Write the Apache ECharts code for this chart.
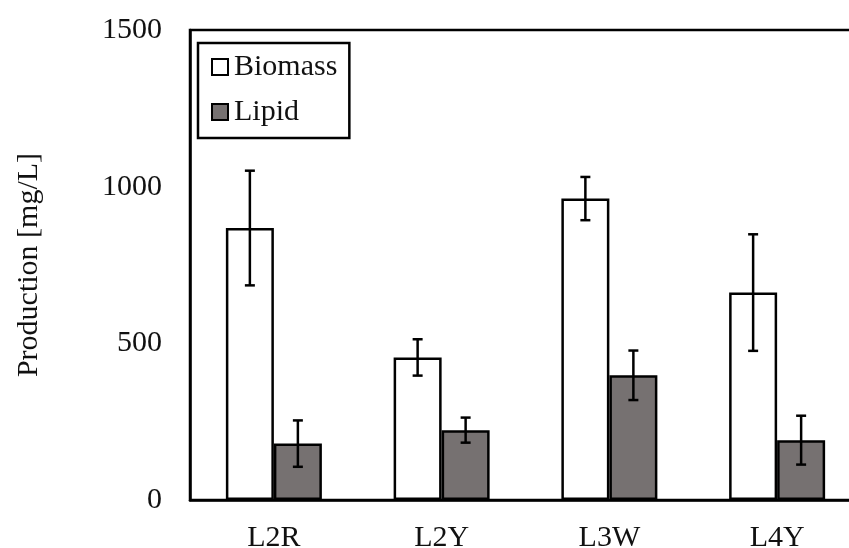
<!DOCTYPE html>
<html>
<head>
<meta charset="utf-8">
<script src="https://cdn.jsdelivr.net/npm/echarts@6/dist/echarts.min.js"></script>
<style>
  html, body { margin: 0; padding: 0; background: #fff; }
  #chart { width: 849px; height: 548px; }
</style>
</head>
<body>
<div id="chart"></div>
<script>
// Strains and measured production (mg/L), mean and standard deviation
const categories = ['L2R', 'L2Y', 'L3W', 'L4Y'];
const biomass = [868, 455, 962, 662];
const biomassErr = [183, 58, 69, 186];
const lipid = [180, 223, 398, 191];
const lipidErr = [74, 40, 79, 78];
const yTicks = [0, 500, 1000, 1500];

const FONT = '"Liberation Serif", "Times New Roman", serif';
const FS = 30;
const BAR_W = 48;
const INK = '#111';
const LW = 2.5;

// Error bar: vertical whisker with short caps, shifted onto its bar
function errorBar(shift) {
  return function (params, api) {
    const idx = api.value(0);
    const lo = api.coord([idx, api.value(1)]);
    const hi = api.coord([idx, api.value(2)]);
    const x = lo[0] + shift;
    const cap = 5;
    const style = { stroke: '#000', lineWidth: LW, fill: null };
    return {
      type: 'group',
      children: [
        { type: 'line', shape: { x1: x, y1: hi[1], x2: x, y2: lo[1] }, style },
        { type: 'line', shape: { x1: x - cap, y1: hi[1], x2: x + cap, y2: hi[1] }, style },
        { type: 'line', shape: { x1: x - cap, y1: lo[1], x2: x + cap, y2: lo[1] }, style }
      ]
    };
  };
}

function errData(vals, errs) {
  return vals.map((v, i) => [i, v - errs[i], v + errs[i]]);
}

const chart = echarts.init(document.getElementById('chart'), null, { renderer: 'canvas' });
chart.setOption({
  animation: false,
  backgroundColor: '#fff',
  textStyle: { fontFamily: FONT, color: INK },
  // plot frame runs past the right edge of the canvas
  grid: {
    left: 190, top: 30, bottom: 48, width: 671,
    outerBoundsMode: 'none',
    containLabel: false,
    show: true, borderColor: '#000', borderWidth: LW, backgroundColor: 'transparent'
  },
  legend: {
    orient: 'vertical',
    left: 198, top: 43,
    padding: [9, 12, 11, 13],
    itemGap: 15,
    itemWidth: 16, itemHeight: 16,
    borderColor: '#000', borderWidth: LW,
    backgroundColor: '#fff',
    textStyle: { fontFamily: FONT, fontSize: FS, color: INK, lineHeight: 30, padding: [0, 0, 0, 1] },
    data: [
      { name: 'Biomass', icon: 'rect' },
      { name: 'Lipid', icon: 'rect' }
    ]
  },
  xAxis: {
    type: 'category',
    data: categories,
    axisLine: { lineStyle: { color: '#000', width: LW } },
    axisTick: { inside: true, length: 8, lineStyle: { color: '#000', width: LW } },
    axisLabel: { fontFamily: FONT, fontSize: FS, color: INK, margin: 23 }
  },
  yAxis: {
    type: 'value',
    min: yTicks[0], max: yTicks[yTicks.length - 1], interval: 500,
    name: 'Production [mg/L]',
    nameLocation: 'middle',
    nameGap: 146,
    nameTextStyle: { fontFamily: FONT, fontSize: FS, color: INK },
    splitLine: { show: false },
    axisLine: { show: true, lineStyle: { color: '#000', width: LW } },
    axisTick: { inside: true, length: 7, lineStyle: { color: '#000', width: LW } },
    axisLabel: { fontFamily: FONT, fontSize: FS, color: INK, margin: 28, formatter: v => String(v) }
  },
  series: [
    {
      name: 'Biomass', type: 'bar', data: biomass,
      barWidth: BAR_W, barGap: '0%',
      itemStyle: { color: '#fff', borderColor: '#000', borderWidth: LW }
    },
    {
      name: 'Lipid', type: 'bar', data: lipid,
      barWidth: BAR_W, barGap: '0%',
      itemStyle: { color: '#767171', borderColor: '#000', borderWidth: LW }
    },
    {
      type: 'custom', renderItem: errorBar(-BAR_W / 2),
      data: errData(biomass, biomassErr), encode: { x: 0, y: [1, 2] }, z: 10
    },
    {
      type: 'custom', renderItem: errorBar(BAR_W / 2),
      data: errData(lipid, lipidErr), encode: { x: 0, y: [1, 2] }, z: 10
    }
  ]
});
</script>
</body>
</html>
